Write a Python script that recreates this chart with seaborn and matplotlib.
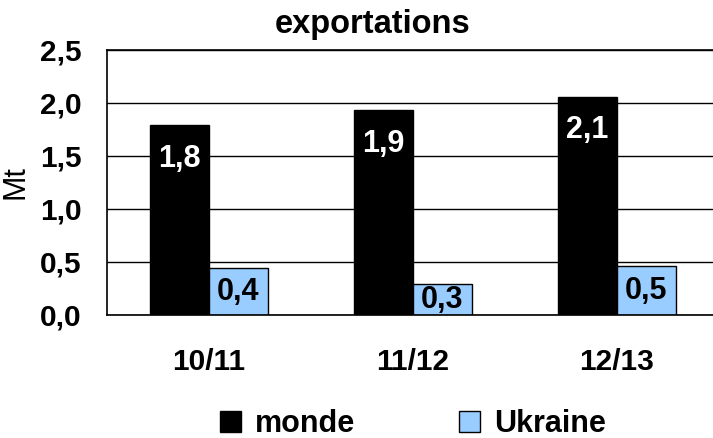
import matplotlib
matplotlib.use("Agg")
import matplotlib.pyplot as plt
from matplotlib.ticker import FuncFormatter, MultipleLocator
import pandas as pd
import seaborn as sns

sns.set_theme(style="white")
plt.rcParams["font.family"] = ["Liberation Sans", "DejaVu Sans"]
plt.rcParams.update({
    "text.color": "black",
    "axes.labelcolor": "black",
    "xtick.color": "black",
    "ytick.color": "black",
})

seasons = ["10/11", "11/12", "12/13"]
monde = [1.79, 1.93, 2.06]
ukraine = [0.44, 0.29, 0.46]
series = ["monde", "Ukraine"]
colors = ["#000000", "#99CCFF"]

df = pd.DataFrame(
    {
        "season": seasons * 2,
        "value": monde + ukraine,
        "serie": [series[0]] * 3 + [series[1]] * 3,
    }
)


def comma(v, _=None):
    return f"{v:.1f}".replace(".", ",")


fs = 21.5

fig = plt.figure(figsize=(7.13, 4.38), dpi=100)
ax = fig.add_axes([0.150, 0.281, 0.858, 0.605])

sns.barplot(
    data=df,
    x="season",
    y="value",
    hue="serie",
    palette=colors,
    edgecolor="black",
    linewidth=1,
    width=0.58,
    saturation=1,
    ax=ax,
)

ax.set_ylim(0, 2.5)
ax.set_xlim(-0.5, 2.5)
ax.yaxis.set_major_locator(MultipleLocator(0.5))
ax.yaxis.set_major_formatter(FuncFormatter(comma))
ax.yaxis.grid(True, color="black", linewidth=1)
ax.set_axisbelow(True)
for s in ax.spines.values():
    s.set_color("black")
    s.set_linewidth(1.2)

ax.tick_params(axis="both", length=0, labelsize=fs)
ax.tick_params(axis="y", pad=18)
ax.tick_params(axis="x", pad=24)
for lbl in ax.get_xticklabels() + ax.get_yticklabels():
    lbl.set_fontweight("bold")

ax.set_xlabel("")
ax.set_ylabel("Mt", fontsize=22)
ax.yaxis.set_label_coords(-0.125, 0.5)

# value labels
ax.bar_label(ax.containers[0], labels=[comma(v) for v in monde],
             label_type="edge", padding=-35, color="white",
             fontsize=22, fontweight="bold")
ax.bar_label(ax.containers[1], labels=[comma(v) for v in ukraine],
             label_type="center", color="black",
             fontsize=22, fontweight="bold")

fig.text(0.523, 0.943, "exportations", ha="center", va="center",
         fontsize=23.5, fontweight="bold")

sns.move_legend(
    ax,
    "center",
    bbox_to_anchor=(0.579, 0.032),
    bbox_transform=fig.transFigure,
    ncol=2,
    title=None,
    frameon=False,
    fontsize=22,
    handlelength=0.7,
    handleheight=0.7,
    handletextpad=0.45,
    columnspacing=3.4,
)
for t in ax.get_legend().get_texts():
    t.set_fontweight("bold")

fig.savefig("out.png", dpi=100)
